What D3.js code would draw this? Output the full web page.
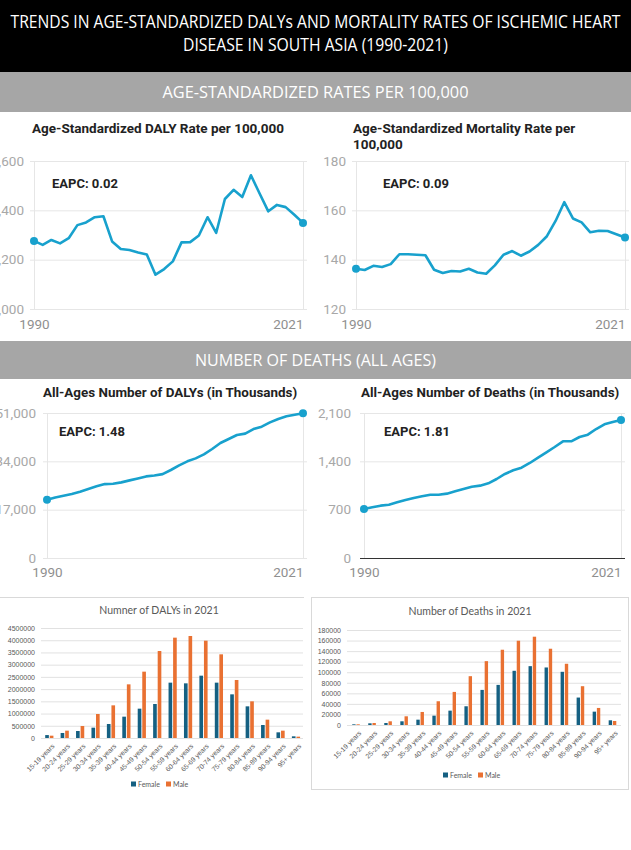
<!DOCTYPE html>
<html>
<head>
<meta charset="utf-8">
<script src="https://cdn.jsdelivr.net/npm/d3@7"></script>
<style>
body { margin: 0; background: #fff; }
svg { display: block; font-family: Roboto, "Noto Sans", sans-serif; }
</style>
</head>
<body>
<svg id="page"></svg>
<script>
// ---- data ----
var years = [1990,1991,1992,1993,1994,1995,1996,1997,1998,1999,2000,2001,2002,2003,2004,2005,
             2006,2007,2008,2009,2010,2011,2012,2013,2014,2015,2016,2017,2018,2019,2020,2021];
var yearTicks = [1990, 2021];

var dalyRate = [1276,1260,1280,1266,1287,1340,1351,1372,1376,1274,1243,1239,1229,1221,1139,1162,
                1193,1270,1271,1298,1372,1309,1446,1483,1454,1542,1468,1396,1422,1413,1382,1349];
var mortalityRate = [136.3,135.8,137.5,137.0,138.2,142.2,142.2,142.0,141.8,135.9,134.6,135.4,135.2,136.3,134.8,134.3,
                     137.7,142.0,143.5,141.6,143.3,146.0,149.5,155.7,163.3,156.7,155.1,151.1,151.7,151.6,150.3,149.0];
var dalyCount = [20500,21300,21900,22500,23300,24300,25200,26000,26100,26600,27300,28000,28700,29000,29500,30950,
                 32600,34000,35050,36450,38350,40450,41850,43250,43750,45350,46200,47700,48900,49850,50400,50900];
var deathCount = [710,734,758,772,806,840,869,893,917,915,932,966,999,1033,1048,1081,
                  1144,1217,1270,1308,1376,1453,1530,1608,1690,1690,1752,1786,1868,1936,1970,1999];

var dalyRateTicks = [1000, 1200, 1400, 1600];
var mortalityTicks = [120, 140, 160, 180];
var dalyCountTicks = [0, 17000, 34000, 51000];
var deathCountTicks = [0, 700, 1400, 2100];

var ageGroups = ["15-19 years","20-24 years","25-29 years","30-34 years","35-39 years","40-44 years",
                 "45-49 years","50-54 years","55-59 years","60-64 years","65-69 years","70-74 years",
                 "75-79 years","80-84 years","85-89 years","90-94 years","95+ years"];
var sexes = ["Female", "Male"];
var dalyFemale = [120000,205000,286000,423000,573000,873000,1200000,1391000,2264000,2236000,2550000,2264000,
                  1786000,1295000,532000,232000,68000];
var dalyMale = [95000,300000,490000,982000,1336000,2195000,2714000,3559000,4105000,4173000,3982000,3423000,
                2373000,1500000,750000,300000,55000];
var deathFemale = [1300,3200,3800,7000,10100,17700,27200,35500,66500,76000,102700,111500,
                   109000,100800,52000,25300,8900];
var deathMale = [1300,3800,7000,16500,24700,45000,62700,92500,121000,142600,159700,167300,
                 144500,116000,73500,32300,7600];
var dalyBarTicks = [0,500000,1000000,1500000,2000000,2500000,3000000,3500000,4000000,4500000];
var deathBarTicks = [0,20000,40000,60000,80000,100000,120000,140000,160000,180000];

var lineColor = "#18a1cd";
var sexColor = d3.scaleOrdinal().domain(sexes).range(["#156082", "#E97132"]);

var svg = d3.select("#page")
            .attr("width", 631)
            .attr("height", 850)

svg.append("rect").attr("width", 631).attr("height", 850).attr("fill", "#fff")

// ---- header and section bands ----
svg.append("rect").attr("x", 0).attr("y", 0).attr("width", 631).attr("height", 72).attr("fill", "#000")
var head = [
    {t: "TRENDS IN AGE-STANDARDIZED DALYs AND MORTALITY RATES OF ISCHEMIC HEART", y: 28, w: 610},
    {t: "DISEASE IN SOUTH ASIA (1990-2021)", y: 51, w: 265}
]
svg.selectAll(".head")
    .data(head)
    .enter()
    .append("text")
    .attr("x", 315.5)
    .attr("y", function(d) { return d.y; })
    .attr("text-anchor", "middle")
    .attr("textLength", function(d) { return d.w; })
    .attr("lengthAdjust", "spacingAndGlyphs")
    .attr("fill", "#fff")
    .style("font-family", "'Open Sans', sans-serif")
    .style("font-size", "17.5px")
    .text(function(d) { return d.t; })

var bands = [
    {t: "AGE-STANDARDIZED RATES PER 100,000", y: 72, h: 40, w: 306},
    {t: "NUMBER OF DEATHS (ALL AGES)", y: 341, h: 38, w: 241}
]
bands.forEach(function(b) {
    svg.append("rect").attr("x", 0).attr("y", b.y).attr("width", 631).attr("height", b.h).attr("fill", "#a6a6a6")
    svg.append("text")
        .attr("x", 315.5)
        .attr("y", b.y + b.h / 2 + 6)
        .attr("text-anchor", "middle")
        .attr("textLength", b.w)
        .attr("lengthAdjust", "spacingAndGlyphs")
        .attr("fill", "#fff")
        .style("font-family", "'Open Sans', sans-serif")
        .style("font-size", "16.5px")
        .text(b.t)
})

// ---- line charts ----
var drawTrend = function(opt)
{
    var g = svg.append("g");
    var xScale = d3.scaleLinear()
                    .domain([years[0], years[years.length - 1]])
                    .range([opt.x0, opt.x1])
    var yScale = d3.scaleLinear()
                    .domain([opt.ticks[0], opt.ticks[opt.ticks.length - 1]])
                    .range([opt.yBot, opt.yTop])

    var left = opt.x0 - 4;
    var yAxis = g.append("g")
        .attr("transform", "translate(" + left + ",0)")
        .call(d3.axisLeft(yScale)
            .tickValues(opt.ticks)
            .tickSize(-(opt.x1 - opt.x0 + 8))
            .tickPadding(left - opt.labelEnd)
            .tickFormat(d3.format(",")))
    yAxis.select(".domain").remove()
    yAxis.selectAll("line")
        .attr("stroke", function(d) { return (opt.darkBase && d == 0) ? "#333" : "#e6e6e6"; })
    yAxis.selectAll("text")
        .attr("fill", "#a8a8a8")
        .style("font-size", "13.5px")
        .style("font-family", "Roboto, sans-serif")

    var xAxis = g.append("g")
        .attr("transform", "translate(0," + opt.yBot + ")")
        .call(d3.axisBottom(xScale)
            .tickValues(yearTicks)
            .tickSize(-(opt.yBot - opt.yTop))
            .tickPadding(opt.xPad)
            .tickFormat(d3.format("d")))
    xAxis.select(".domain").remove()
    xAxis.selectAll("line").attr("stroke", "#e6e6e6")
    xAxis.selectAll("text")
        .attr("fill", "#8f8f8f")
        .attr("text-anchor", function(d, i) { return i == yearTicks.length - 1 ? "end" : "middle"; })
        .style("font-size", "13.5px")
        .style("font-family", "Roboto, sans-serif")
    if (opt.darkBase) { yAxis.raise(); }

    var line = d3.line()
        .x(function(d, i) { return xScale(years[i]); })
        .y(function(d) { return yScale(d); })
    g.append("path")
        .datum(opt.values)
        .attr("d", line)
        .attr("fill", "none")
        .attr("stroke", lineColor)
        .attr("stroke-width", 2.6)
        .attr("stroke-linejoin", "round")

    var ends = [0, opt.values.length - 1];
    g.selectAll("circle")
        .data(ends)
        .enter()
        .append("circle")
        .attr("cx", function(i) { return xScale(years[i]); })
        .attr("cy", function(i) { return yScale(opt.values[i]); })
        .attr("r", 4)
        .attr("fill", lineColor)

    g.selectAll(".title")
        .data(opt.title)
        .enter()
        .append("text")
        .attr("x", opt.titleX)
        .attr("y", function(d, i) { return opt.titleY + i * 15.5; })
        .attr("fill", "#222")
        .style("font-weight", "bold")
        .style("font-size", opt.titleSize + "px")
        .text(function(d) { return d; })

    g.append("text")
        .attr("x", opt.eapcX)
        .attr("y", opt.eapcY)
        .attr("fill", "#222")
        .style("font-weight", "bold")
        .style("font-size", "13px")
        .text(opt.eapc)
}

drawTrend({values: dalyRate, ticks: dalyRateTicks, x0: 34, x1: 303, yTop: 161, yBot: 309, labelEnd: 24, xPad: 10,
           title: ["Age-Standardized DALY Rate per 100,000"], titleX: 32, titleY: 133, titleSize: 13.5,
           eapc: "EAPC: 0.02", eapcX: 52, eapcY: 188})
drawTrend({values: mortalityRate, ticks: mortalityTicks, x0: 356, x1: 625, yTop: 161, yBot: 309, labelEnd: 346, xPad: 10,
           title: ["Age-Standardized Mortality Rate per", "100,000"], titleX: 353, titleY: 133, titleSize: 13.5,
           eapc: "EAPC: 0.09", eapcX: 383, eapcY: 188})
drawTrend({values: dalyCount, ticks: dalyCountTicks, x0: 47, x1: 303, yTop: 413, yBot: 558, labelEnd: 36, xPad: 9,
           title: ["All-Ages Number of DALYs (in Thousands)"], titleX: 43, titleY: 397, titleSize: 13.4,
           eapc: "EAPC: 1.48", eapcX: 59, eapcY: 436})
drawTrend({values: deathCount, ticks: deathCountTicks, x0: 364, x1: 621, yTop: 413, yBot: 558, labelEnd: 351, xPad: 9,
           darkBase: true,
           title: ["All-Ages Number of Deaths (in Thousands)"], titleX: 361, titleY: 397, titleSize: 13.4,
           eapc: "EAPC: 1.81", eapcX: 384, eapcY: 436})

// ---- bar charts ----
svg.append("line").attr("x1", 0).attr("x2", 304).attr("y1", 597.5).attr("y2", 597.5).attr("stroke", "#d9d9d9")
svg.append("rect").attr("x", 311.5).attr("y", 597.5).attr("width", 317).attr("height", 192)
    .attr("fill", "none").attr("stroke", "#d9d9d9")

var drawBars = function(opt)
{
    var g = svg.append("g").style("font-family", "Lato, 'Open Sans', sans-serif");
    var xScale = d3.scaleBand()
                    .domain(ageGroups)
                    .range([opt.x0, opt.x1])
    var subScale = d3.scaleBand()
                    .domain(sexes)
                    .range([xScale.bandwidth() / 2 - opt.pair / 2, xScale.bandwidth() / 2 + opt.pair / 2])
                    .paddingInner(0.2)
    var yScale = d3.scaleLinear()
                    .domain([0, opt.ticks[opt.ticks.length - 1]])
                    .range([opt.yBot, opt.yTop])

    var yAxis = g.append("g")
        .attr("transform", "translate(" + opt.gridStart + ",0)")
        .call(d3.axisLeft(yScale)
            .tickValues(opt.ticks)
            .tickSize(-(opt.gridEnd - opt.gridStart))
            .tickPadding(opt.gridStart - opt.labelEnd)
            .tickFormat(d3.format("d")))
    yAxis.select(".domain").remove()
    yAxis.selectAll("line").attr("stroke", "#d9d9d9").attr("stroke-width", 0.8)
    yAxis.selectAll("text").attr("fill", "#595959").style("font-size", "7px")

    var rows = ageGroups.map(function(a, i) {
        return {age: a, Female: opt.female[i], Male: opt.male[i]};
    })
    g.selectAll(".grp")
        .data(rows)
        .enter()
        .append("g")
        .attr("transform", function(d) { return "translate(" + xScale(d.age) + ",0)"; })
        .selectAll("rect")
        .data(function(d) { return sexes.map(function(s) { return {sex: s, v: d[s]}; }); })
        .enter()
        .append("rect")
        .attr("x", function(d) { return subScale(d.sex); })
        .attr("width", subScale.bandwidth())
        .attr("y", function(d) { return yScale(d.v); })
        .attr("height", function(d) { return opt.yBot - yScale(d.v); })
        .attr("fill", function(d) { return sexColor(d.sex); })

    var xAxis = g.append("g")
        .attr("transform", "translate(0," + opt.yBot + ")")
        .call(d3.axisBottom(xScale).tickSize(0))
    xAxis.select(".domain").remove()
    xAxis.selectAll("text")
        .attr("fill", "#595959")
        .style("font-size", "6.8px")
        .style("text-anchor", "end")
        .attr("x", 0)
        .attr("y", 0)
        .attr("dy", "0.35em")
        .attr("transform", "translate(4,7) rotate(-45)")

    g.append("text")
        .attr("x", opt.titleX)
        .attr("y", opt.titleY)
        .attr("text-anchor", "middle")
        .attr("fill", "#595959")
        .style("font-size", "10.5px")
        .text(opt.title)

    var leg = g.selectAll(".leg")
        .data(sexes)
        .enter()
        .append("g")
        .attr("transform", function(d, i) { return "translate(" + (opt.legX + i * 35) + "," + opt.legY + ")"; })
    leg.append("rect")
        .attr("x", 0).attr("y", -5.5).attr("width", 5).attr("height", 5)
        .attr("fill", function(d) { return sexColor(d); })
    leg.append("text")
        .attr("x", 7)
        .attr("y", 0)
        .attr("fill", "#595959")
        .style("font-size", "7px")
        .text(function(d) { return d; })
}

drawBars({female: dalyFemale, male: dalyMale, ticks: dalyBarTicks, x0: 41.6, x1: 303.7, yTop: 628, yBot: 738,
          gridStart: 41, gridEnd: 303, labelEnd: 35, pair: 8.2,
          title: "Numner of DALYs in 2021", titleX: 159, titleY: 614, legX: 131, legY: 787})
drawBars({female: deathFemale, male: deathMale, ticks: deathBarTicks, x0: 348, x1: 620.5, yTop: 630, yBot: 725,
          gridStart: 347, gridEnd: 621, labelEnd: 341, pair: 7.6,
          title: "Number of Deaths in 2021", titleX: 470, titleY: 615, legX: 443, legY: 778})
</script>
</body>
</html>
